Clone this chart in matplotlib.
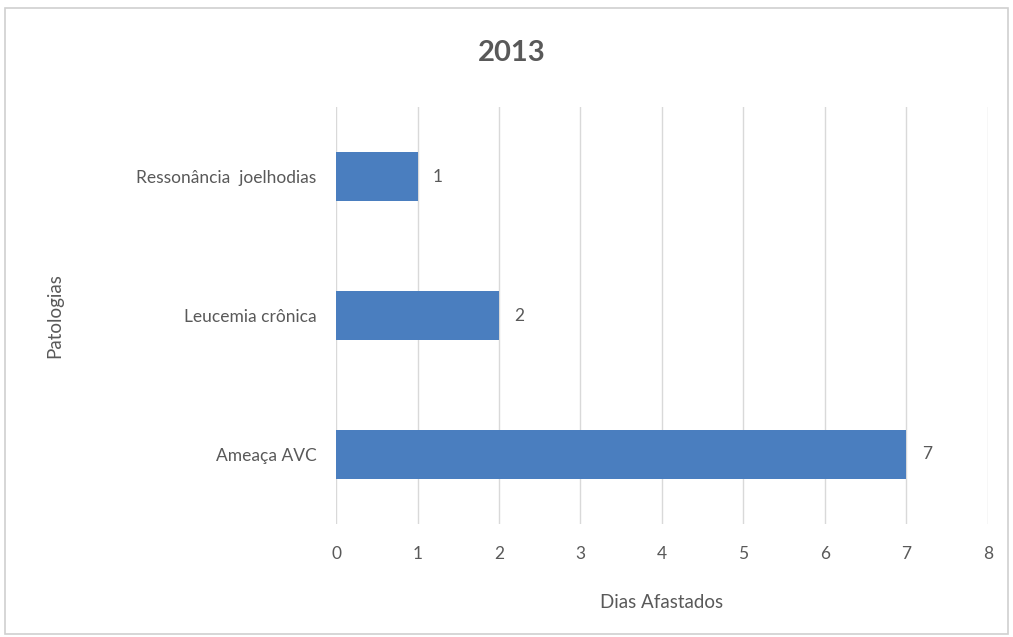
import matplotlib.pyplot as plt
from matplotlib.patches import Rectangle

# Days off per condition, bottom bar first
patologias = ['Ameaça AVC', 'Leucemia crônica', 'Ressonância  joelhodias']
dias = [7, 2, 1]
x_ticks = [0, 1, 2, 3, 4, 5, 6, 7, 8]

text_color = '#595959'
bar_color = '#4A7EBF'

plt.rcParams['font.family'] = ['Lato', 'DejaVu Sans']

fig = plt.figure(figsize=(10.13, 6.37), dpi=100)
ax = fig.add_axes([0.3317, 0.1774, 0.6436, 0.6546])

positions = range(len(patologias))
bars = ax.barh(positions, dias, height=0.35, color=bar_color, zorder=3)

for bar, value in zip(bars, dias):
    ax.annotate(str(value), (bar.get_width(), bar.get_y() + bar.get_height() / 2),
                xytext=(11, 0), textcoords='offset points', va='center', ha='left',
                fontsize=12.5, color=text_color)

ax.set_xlim(0, 8)
ax.set_ylim(-0.5, len(patologias) - 0.5)
ax.set_xticks(x_ticks)
ax.set_yticks(list(positions))
ax.set_yticklabels(patologias)
ax.tick_params(axis='both', length=0, labelsize=12.5, labelcolor=text_color)
ax.tick_params(axis='x', pad=16)
ax.tick_params(axis='y', pad=14)
ax.xaxis.grid(True, color='#D9D9D9', linewidth=1, zorder=0)
for side in ['top', 'right', 'bottom', 'left']:
    ax.spines[side].set_visible(False)

ax.set_xlabel('Dias Afastados', fontsize=13.5, color=text_color, labelpad=23)
ax.set_ylabel('Patologias', fontsize=13.5, color=text_color, labelpad=0)
ax.yaxis.set_label_coords(-0.419, 0.5)

fig.text(0.505, 0.917, '2013', ha='center', va='center', fontsize=21,
         fontweight='bold', color=text_color)

# outer chart frame
fig.patches.append(Rectangle((0.005, 0.005), 0.99, 0.983, transform=fig.transFigure,
                             fill=False, edgecolor='#D0D0D0', linewidth=1.2))

fig.savefig('out.png', dpi=100)
